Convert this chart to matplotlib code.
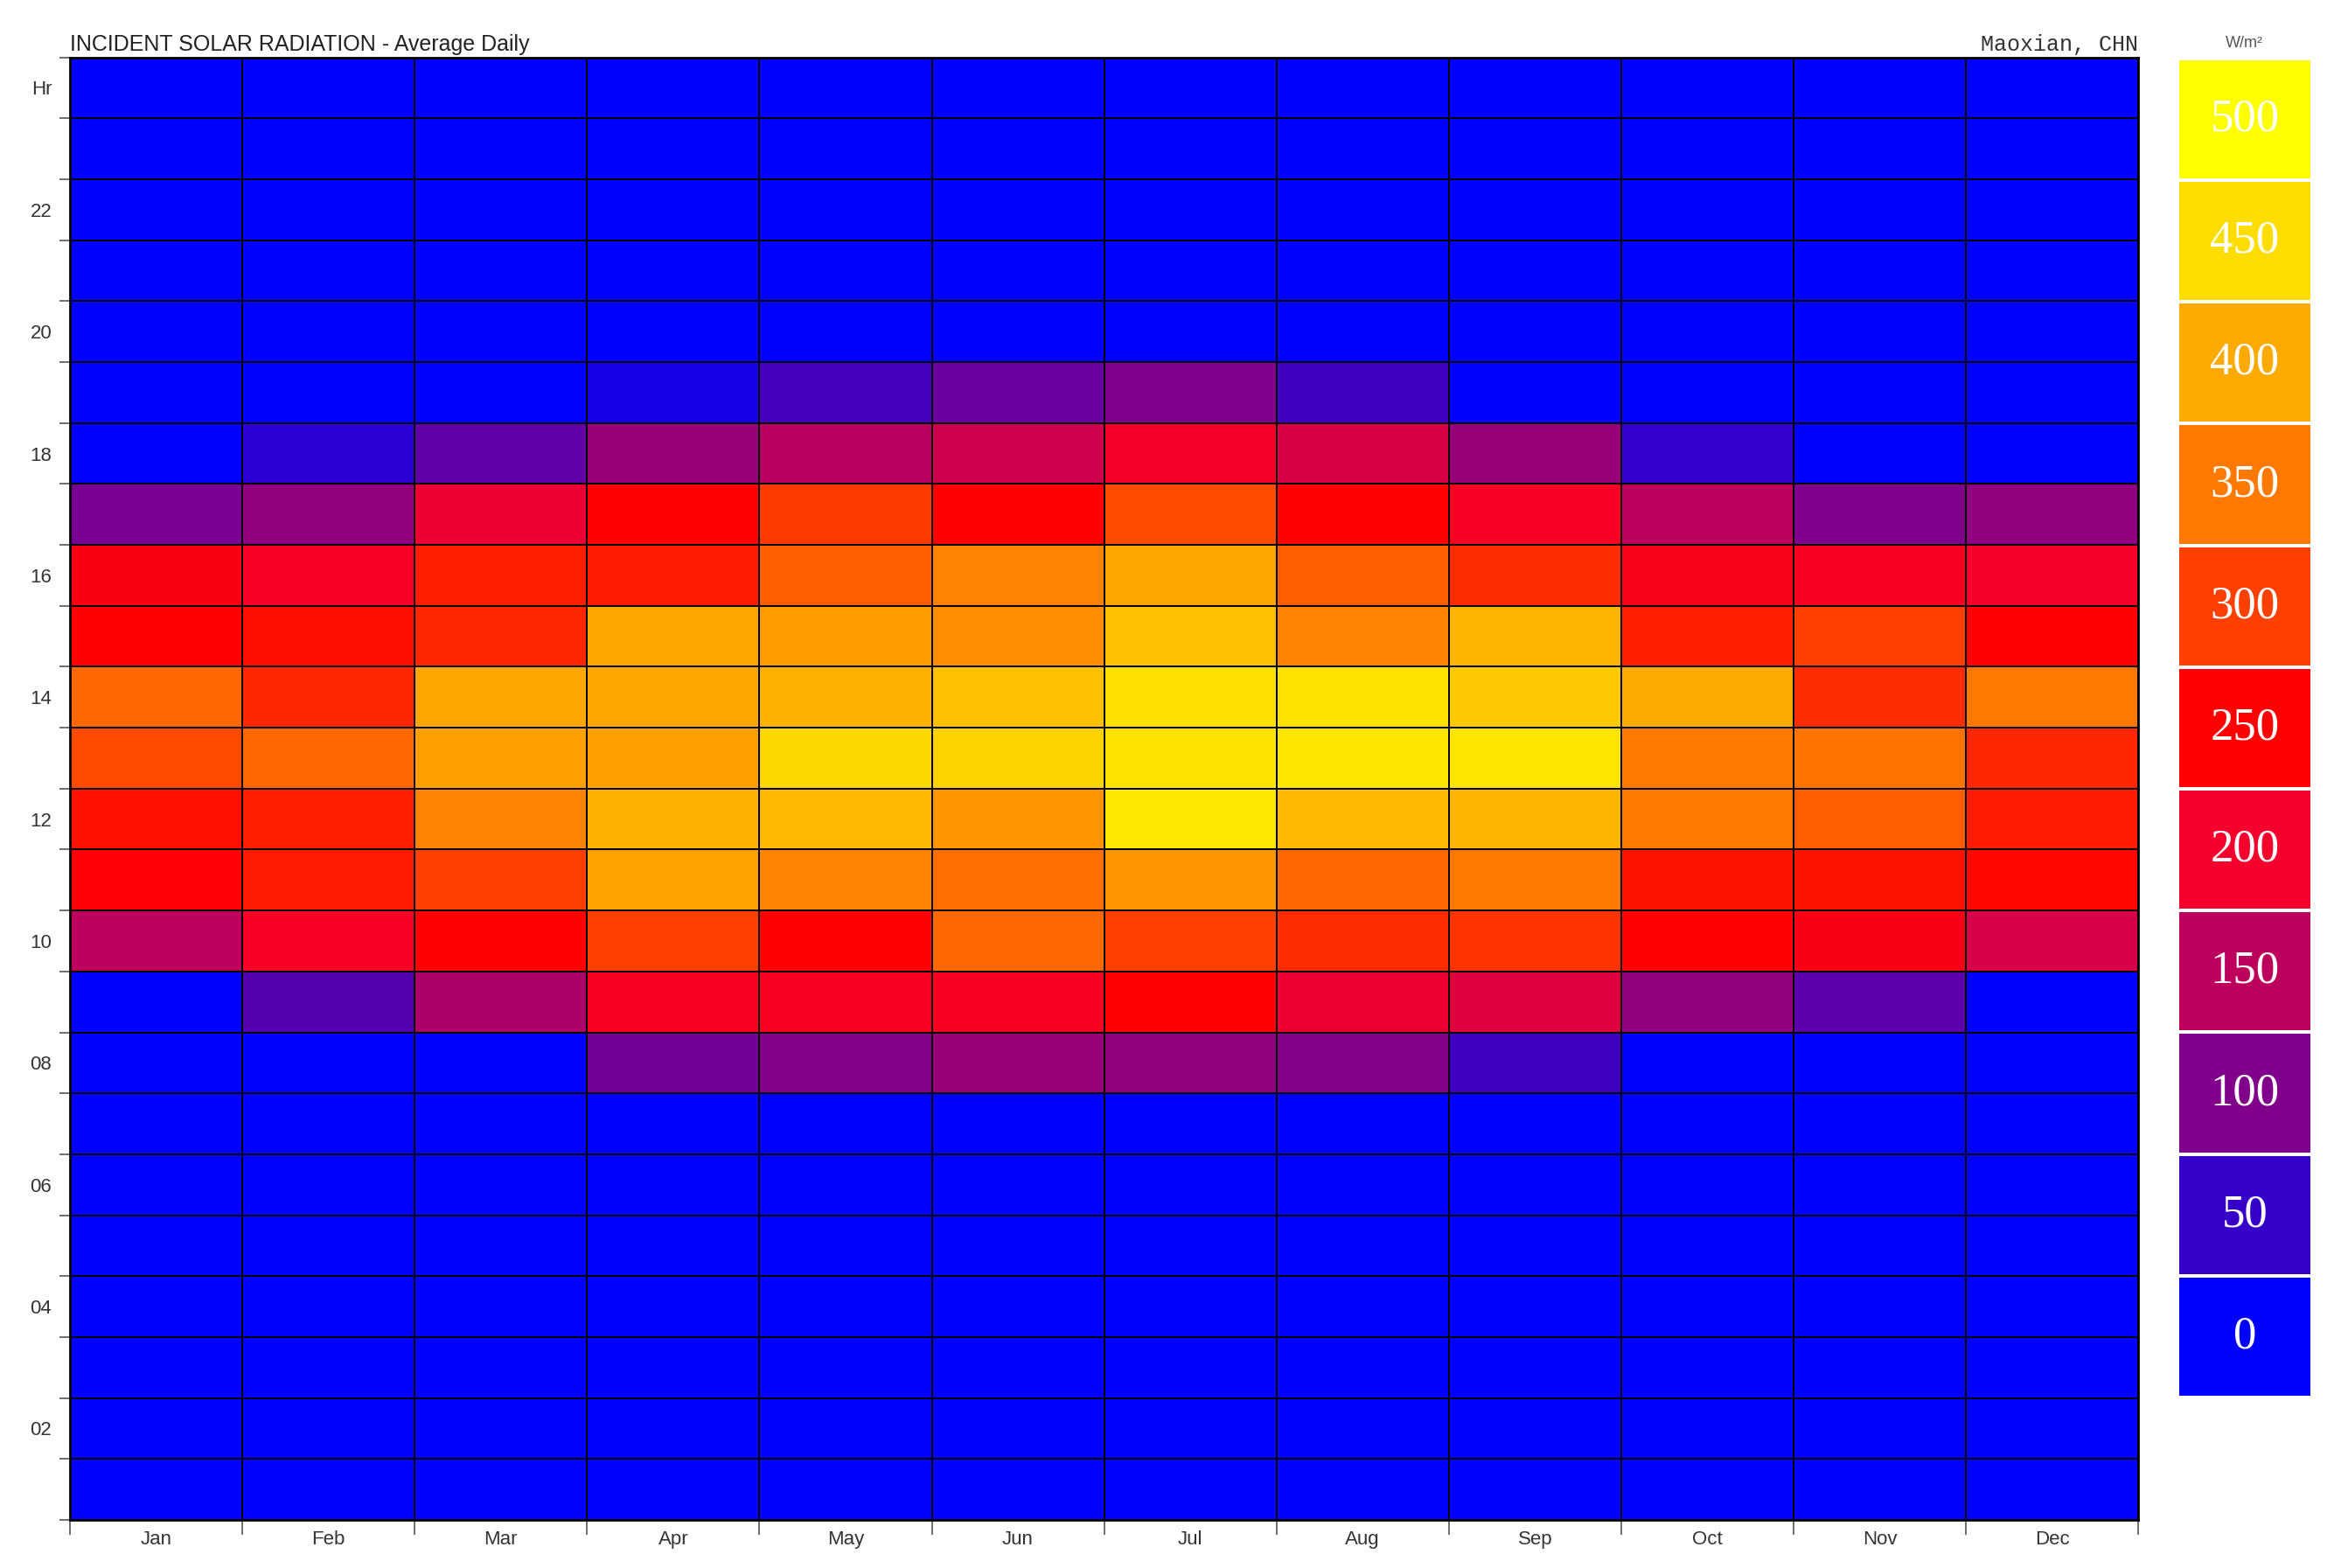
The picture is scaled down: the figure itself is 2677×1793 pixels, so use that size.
import matplotlib
matplotlib.use('Agg')
import matplotlib.pyplot as plt
import numpy as np
from matplotlib.colors import LinearSegmentedColormap, Normalize

months = ['Jan', 'Feb', 'Mar', 'Apr', 'May', 'Jun', 'Jul', 'Aug', 'Sep', 'Oct', 'Nov', 'Dec']
hours = list(range(1, 25))
hour_labels = ['', '02', '', '04', '', '06', '', '08', '', '10', '', '12',
               '', '14', '', '16', '', '18', '', '20', '', '22', '', 'Hr']

# W/m2 per hour (row) and month (column), hour 1 at the bottom
radiation = [
    [0, 0, 0, 0, 0, 0, 0, 0, 0, 0, 0, 0],                                  # 1
    [0, 0, 0, 0, 0, 0, 0, 0, 0, 0, 0, 0],                                  # 2
    [0, 0, 0, 0, 0, 0, 0, 0, 0, 0, 0, 0],                                  # 3
    [0, 0, 0, 0, 0, 0, 0, 0, 0, 0, 0, 0],                                  # 4
    [0, 0, 0, 0, 0, 0, 0, 0, 0, 0, 0, 0],                                  # 5
    [0, 0, 0, 0, 0, 0, 0, 0, 0, 0, 0, 0],                                  # 6
    [0, 0, 0, 0, 0, 0, 0, 0, 0, 0, 0, 0],                                  # 7
    [0, 0, 0, 90, 105, 120, 115, 105, 55, 0, 0, 0],                        # 8
    [0, 70, 135, 215, 215, 215, 250, 195, 180, 115, 75, 0],                # 9
    [150, 210, 250, 300, 250, 335, 300, 285, 290, 250, 225, 170],          # 10
    [245, 270, 300, 392, 360, 340, 380, 335, 350, 265, 265, 255],          # 11
    [262, 275, 360, 405, 415, 380, 465, 415, 410, 350, 325, 270],          # 12
    [310, 335, 390, 390, 445, 440, 458, 462, 462, 350, 345, 280],          # 13
    [335, 280, 395, 395, 405, 420, 455, 458, 430, 400, 285, 350],          # 14
    [250, 260, 280, 395, 385, 370, 420, 360, 410, 275, 300, 250],          # 15
    [230, 210, 275, 270, 325, 360, 395, 325, 285, 220, 215, 205],          # 16
    [95, 115, 195, 250, 295, 250, 310, 250, 210, 150, 100, 115],           # 17
    [0, 40, 80, 120, 145, 165, 205, 175, 120, 45, 0, 0],                   # 18
    [0, 0, 0, 20, 60, 85, 100, 55, 0, 0, 0, 0],                            # 19
    [0, 0, 0, 0, 0, 0, 0, 0, 0, 0, 0, 0],                                  # 20
    [0, 0, 0, 0, 0, 0, 0, 0, 0, 0, 0, 0],                                  # 21
    [0, 0, 0, 0, 0, 0, 0, 0, 0, 0, 0, 0],                                  # 22
    [0, 0, 0, 0, 0, 0, 0, 0, 0, 0, 0, 0],                                  # 23
    [0, 0, 0, 0, 0, 0, 0, 0, 0, 0, 0, 0],                                  # 24
]

levels = [0, 50, 100, 150, 200, 250, 300, 350, 400, 450, 500]
level_colors = ['#0000ff', '#3800c8', '#80008c', '#be005a', '#f5002d', '#ff0000',
                '#ff4000', '#ff7800', '#ffaa00', '#ffdc00', '#ffff00']

cmap = LinearSegmentedColormap.from_list(
    'solar', [(v / levels[-1], c) for v, c in zip(levels, level_colors)])
norm = Normalize(vmin=levels[0], vmax=levels[-1])

plt.rcParams['font.family'] = ['Liberation Sans', 'DejaVu Sans']

fig = plt.figure(figsize=(26.77, 17.93), dpi=100)
ax = fig.add_axes([0.0299, 0.0307, 0.8835, 0.9327])

data = np.array(radiation)
ax.pcolormesh(np.arange(len(months) + 1), np.arange(len(hours) + 1), data,
              cmap=cmap, norm=norm, edgecolors='black', linewidth=1.3)
ax.set_xlim(0, len(months))
ax.set_ylim(0, len(hours))

# boundaries get the tick marks, centres get the labels
ax.set_xticks(np.arange(len(months) + 1))
ax.set_xticklabels([])
ax.set_xticks(np.arange(len(months)) + 0.5, minor=True)
ax.set_xticklabels(months, minor=True, fontsize=16, color='#333333')
ax.set_yticks(np.arange(len(hours) + 1))
ax.set_yticklabels([])
ax.set_yticks(np.arange(len(hours)) + 0.5, minor=True)
ax.set_yticklabels(hour_labels, minor=True, fontsize=16, color='#333333')

ax.tick_params(axis='x', which='major', length=12, width=1.2, color='#555555')
ax.tick_params(axis='y', which='major', length=9, width=1.2, color='#555555')
ax.tick_params(axis='x', which='minor', length=0, pad=9)
ax.tick_params(axis='y', which='minor', length=0, pad=15)
for spine in ax.spines.values():
    spine.set_linewidth(2)
    spine.set_color('black')

fig.text(0.0299, 0.9675, 'INCIDENT SOLAR RADIATION - Average Daily',
         fontsize=18, color='#222222', ha='left', va='baseline')
fig.text(0.9134, 0.9675, 'Maoxian, CHN', fontsize=18, color='#333333',
         family=['Liberation Mono', 'DejaVu Sans Mono'], ha='right', va='baseline')

# discrete legend bar
cax = fig.add_axes([0.9301, 0.1087, 0.0575, 0.8540])
cax.pcolormesh([0, 1], np.arange(len(levels) + 1), np.array(levels).reshape(-1, 1),
               cmap=cmap, norm=norm, edgecolors='white', linewidth=1.5)
cax.set_xlim(0, 1)
cax.set_ylim(0, len(levels))
for i, v in enumerate(levels):
    cax.text(0.5, i + 0.5, str(v), color='white', fontsize=38, ha='center', va='center',
             family=['Liberation Serif', 'DejaVu Serif'])
cax.axis('off')
fig.text(0.9588, 0.9725, 'W/m²', fontsize=13, color='#555555', ha='center', va='center')

fig.savefig('out.png', dpi=100)
